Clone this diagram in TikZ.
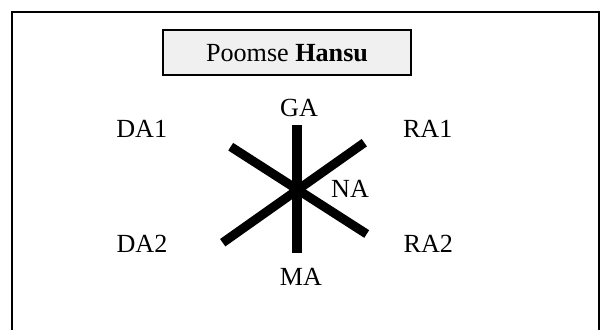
\documentclass[tikz,border=0pt]{standalone}
\usepackage{fontspec}
\setmainfont{Liberation Serif}
\usepackage{xcolor}
\usetikzlibrary{positioning}

\definecolor{titlegray}{HTML}{F0F0F0}

\begin{document}
\begin{tikzpicture}[
  x=0.75pt, y=-0.75pt,
  frame/.style={
    draw=black,
    line width=1pt
  },
  titlebox/.style={
    rectangle,
    draw=black,
    fill=titlegray,
    line width=1.3pt,
    minimum width=185.5pt,
    minimum height=33.75pt,
    font=\fontsize{19.6}{22}\selectfont
  },
  dir/.style={
    font=\fontsize{19.6}{22}\selectfont,
    inner sep=0pt
  },
  stroke/.style={
    line width=6.8pt,
    draw=black,
    line cap=butt
  }
]
\useasboundingbox (0,0) rectangle (605,329);
\clip (0,0) rectangle (605,329);

% Frame
\draw[frame] (12,345) -- (12,12) -- (599,12) -- (599,345);

% Title
\node[titlebox] (title) at (287,52.8) {Poomse \textbf{Hansu}};

% Directions
\node[dir] (ga) at (299,108) {GA};
\node[dir] (ma) at (301,277) {MA};
\node[dir] (da1) at (141.7,129.3) {DA1};
\node[dir] (ra1) at (427.7,129.3) {RA1};
\node[dir] (da2) at (142,244) {DA2};
\node[dir] (ra2) at (428.3,244) {RA2};
\node[dir] (na) at (350,189) {NA};

% Line ends
\coordinate (top) at (297,125);
\coordinate (bottom) at (297,253);
\coordinate (ul) at (230.7,146.7);
\coordinate (lr) at (366.7,234);
\coordinate (ll) at (222.7,242.7);
\coordinate (ur) at (364.3,142.7);

% Lines
\draw[stroke] (top) -- (bottom);
\draw[stroke] (ul) -- (lr);
\draw[stroke] (ll) -- (ur);
\end{tikzpicture}
\end{document}
